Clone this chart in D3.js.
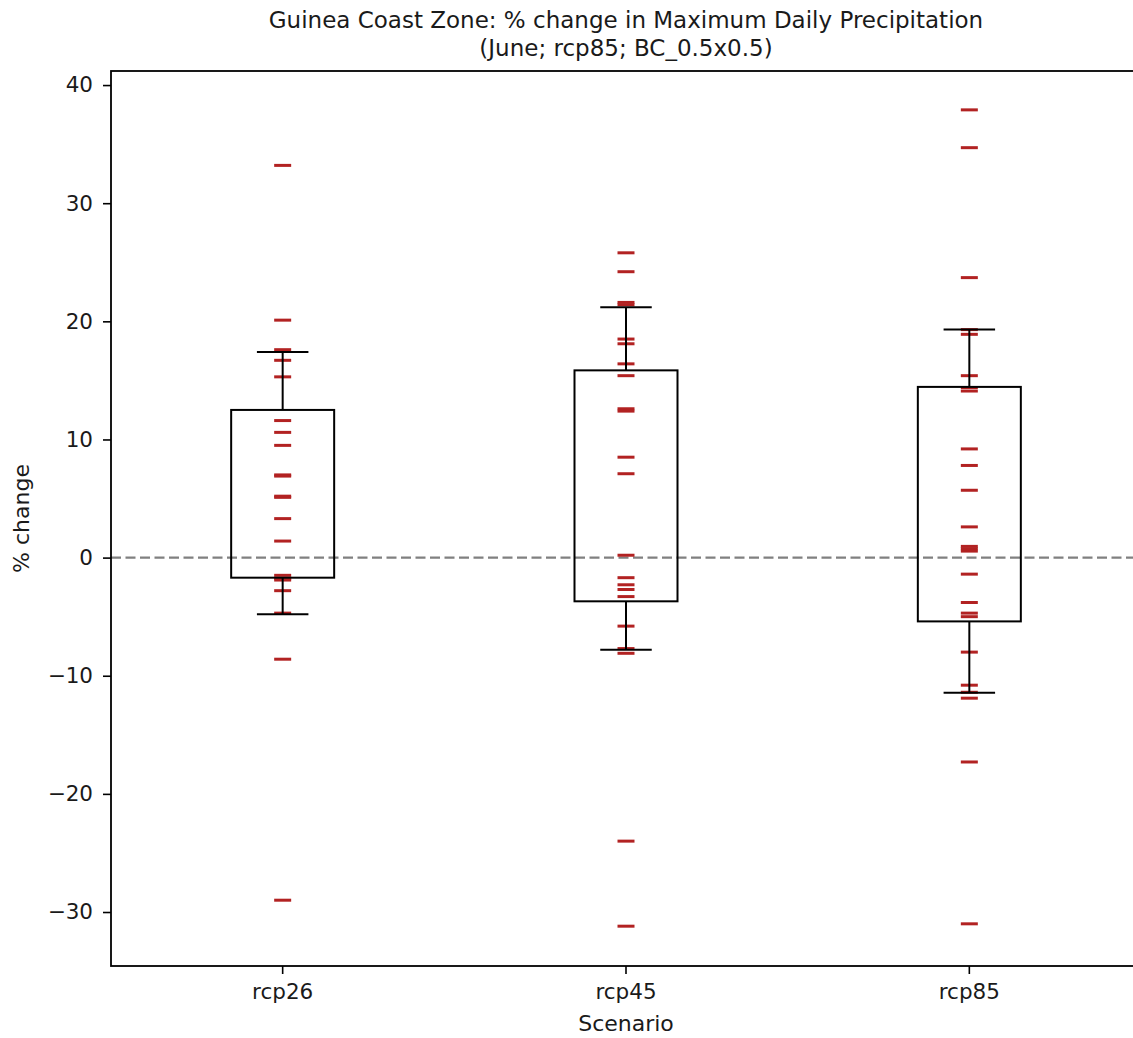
<!DOCTYPE html>
<html>
<head>
<meta charset="utf-8">
<script src="https://cdn.jsdelivr.net/npm/d3@7"></script>
<style>
  html, body { margin: 0; padding: 0; background: #fff; overflow: hidden; }
  svg { display: block; font-family: "DejaVu Sans", sans-serif; }
</style>
</head>
<body>
<svg id="chart" width="1133" height="1038"></svg>
<script>
// ---- data ----
const scenarios = ["rcp26", "rcp45", "rcp85"];
const rcp26 = [33.2, 20.1, 17.6, 16.7, 15.3, 11.6, 10.6, 9.5, 7.0, 6.9, 5.2, 5.1, 3.3, 1.4, -1.5, -1.75, -1.9, -2.8, -4.7, -8.6, -29.0];
const rcp45 = [25.8, 24.2, 21.6, 21.4, 18.5, 18.1, 16.4, 15.4, 12.6, 12.4, 8.5, 7.1, 0.2, -1.7, -2.3, -2.7, -3.3, -5.8, -7.7, -8.1, -24.0, -31.2];
const rcp85 = [37.9, 34.7, 23.7, 19.3, 18.9, 15.4, 14.4, 14.1, 9.2, 7.8, 5.7, 2.6, 0.95, 0.75, 0.55, -1.4, -3.8, -4.7, -5.0, -8.0, -10.8, -11.4, -11.9, -17.3, -31.0];
const q1 = [-1.7, -3.7, -5.4];
const q3 = [12.5, 15.85, 14.45];
const whiskerLow = [-4.8, -7.8, -11.45];
const whiskerHigh = [17.4, 21.2, 19.3];
const yTicks = [-30, -20, -10, 0, 10, 20, 30, 40];
const titleLines = ["Guinea Coast Zone: % change in Maximum Daily Precipitation", "(June; rcp85; BC_0.5x0.5)"];
const xLabel = "Scenario";
const yLabel = "% change";

const seriesValues = [rcp26, rcp45, rcp85];

// ---- layout ----
const svg = d3.select("#chart");
const pLeft = 111, pRight = 1141, pTop = 71, pBottom = 966;

const x = d3.scaleBand().domain(scenarios).range([pLeft, pRight]).padding(0);
const bw = x.bandwidth();
const cx = s => x(s) + bw / 2;
const y = d3.scaleLinear().domain([-34.57, 41.19]).range([pBottom, pTop]);

const fmt = v => (v < 0 ? "\u2212" + Math.abs(v) : String(v));

// zero reference line
svg.append("line")
  .attr("x1", pLeft).attr("x2", pRight)
  .attr("y1", y(0)).attr("y2", y(0))
  .attr("stroke", "#808080").attr("stroke-width", 2.4)
  .attr("stroke-dasharray", "10,4.5");

// markers
const markerW = 17;
scenarios.forEach((s, i) => {
  svg.append("g").selectAll("line")
    .data(seriesValues[i])
    .join("line")
    .attr("x1", cx(s) - markerW / 2).attr("x2", cx(s) + markerW / 2)
    .attr("y1", d => y(d)).attr("y2", d => y(d))
    .attr("stroke", "#b22222").attr("stroke-width", 3);
});

// boxes
const boxW = bw * 0.3, capW = bw * 0.15;
scenarios.forEach((s, i) => {
  const g = svg.append("g").attr("stroke", "#000").attr("stroke-width", 2).attr("fill", "none");
  g.append("rect")
    .attr("x", cx(s) - boxW / 2).attr("width", boxW)
    .attr("y", y(q3[i])).attr("height", y(q1[i]) - y(q3[i]));
  g.append("line").attr("x1", cx(s)).attr("x2", cx(s)).attr("y1", y(q3[i])).attr("y2", y(whiskerHigh[i]));
  g.append("line").attr("x1", cx(s)).attr("x2", cx(s)).attr("y1", y(q1[i])).attr("y2", y(whiskerLow[i]));
  g.append("line").attr("x1", cx(s) - capW / 2).attr("x2", cx(s) + capW / 2).attr("y1", y(whiskerHigh[i])).attr("y2", y(whiskerHigh[i]));
  g.append("line").attr("x1", cx(s) - capW / 2).attr("x2", cx(s) + capW / 2).attr("y1", y(whiskerLow[i])).attr("y2", y(whiskerLow[i]));
});

// axes
const yAxis = d3.axisLeft(y).tickValues(yTicks).tickFormat(fmt).tickSize(8).tickPadding(10);
const gy = svg.append("g").attr("transform", `translate(${pLeft},0)`).call(yAxis);
const xAxis = d3.axisBottom(x).tickSize(8).tickPadding(10);
const gx = svg.append("g").attr("transform", `translate(0,${pBottom})`).call(xAxis);
[gx, gy].forEach(g => {
  g.select(".domain").remove();
  g.selectAll(".tick line").attr("stroke", "#000").attr("stroke-width", 1.6);
  g.selectAll(".tick text").attr("fill", "#1a1a1a").style("font-size", "21.5px").style("font-family", "DejaVu Sans");
});

// spines
svg.append("rect")
  .attr("x", pLeft).attr("y", pTop).attr("width", pRight - pLeft).attr("height", pBottom - pTop)
  .attr("fill", "none").attr("stroke", "#000").attr("stroke-width", 1.8);

// labels
svg.append("text").attr("x", (pLeft + pRight) / 2).attr("y", 1031)
  .attr("text-anchor", "middle").style("font-size", "22px").attr("fill", "#1a1a1a").text(xLabel);
svg.append("text").attr("transform", `translate(29,${(pTop + pBottom) / 2}) rotate(-90)`)
  .attr("text-anchor", "middle").style("font-size", "22px").attr("fill", "#1a1a1a").text(yLabel);

// title
svg.append("g").selectAll("text").data(titleLines).join("text")
  .attr("x", (pLeft + pRight) / 2).attr("y", (d, i) => 28 + i * 28)
  .attr("text-anchor", "middle").style("font-size", "23px").attr("fill", "#1a1a1a")
  .text(d => d);
</script>
</body>
</html>
